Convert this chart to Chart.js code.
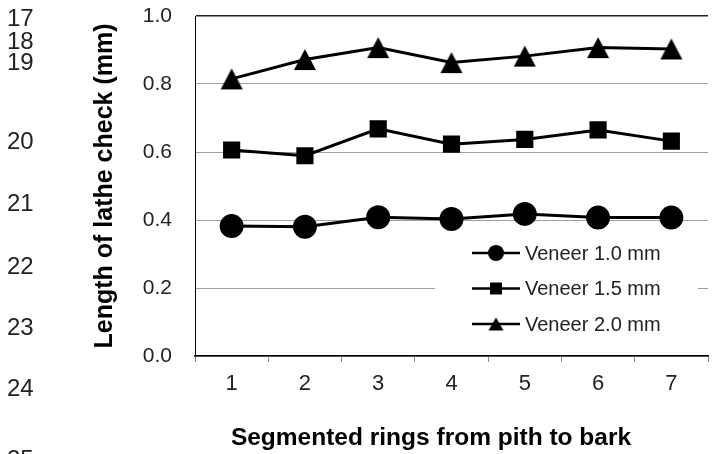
<!DOCTYPE html>
<html>
<head>
<meta charset="utf-8">
<script src="https://cdn.jsdelivr.net/npm/chart.js@4.4.0/dist/chart.umd.min.js"></script>
<style>
  html, body { margin: 0; padding: 0; background: #fff; }
  #wrap { width: 713px; height: 454px; }
</style>
</head>
<body>
<div id="wrap"><canvas id="lathe" width="713" height="454"></canvas></div>
<script>
  // data
  const rings = ['1', '2', '3', '4', '5', '6', '7'];
  const veneer10 = [0.382, 0.380, 0.408, 0.403, 0.418, 0.407, 0.407];
  const veneer15 = [0.606, 0.589, 0.668, 0.623, 0.637, 0.665, 0.632];
  const veneer20 = [0.815, 0.872, 0.907, 0.863, 0.882, 0.907, 0.903];
  const seriesNames = ['Veneer 1.0 mm', 'Veneer 1.5 mm', 'Veneer 2.0 mm'];
  const lineNumbers = ['17', '18', '19', '20', '21', '22', '23', '24', '25'];

  const FONT = '"Liberation Sans", Arial, sans-serif';

  // excel style triangle, centred on its bounding box
  const makeTriangle = (w, h) => {
    const c = document.createElement('canvas');
    c.width = w + 2; c.height = h + 2;
    const g = c.getContext('2d');
    g.fillStyle = '#000';
    g.beginPath();
    g.moveTo(c.width / 2, 1);
    g.lineTo(c.width - 1, c.height - 1);
    g.lineTo(1, c.height - 1);
    g.closePath();
    g.fill();
    return c;
  };
  const bigTri = makeTriangle(22, 21);
  const smallTri = makeTriangle(15, 13);

  const drawMarker = (ctx, style, x, y) => {
    ctx.fillStyle = '#000';
    if (style === 'circle') {
      ctx.beginPath();
      ctx.arc(x, y, 8, 0, Math.PI * 2);
      ctx.fill();
    } else if (style === 'rect') {
      ctx.fillRect(x - 6, y - 6, 12, 12);
    } else {
      ctx.drawImage(smallTri, x - smallTri.width / 2, y - smallTri.height / 2);
    }
  };

  const extras = {
    id: 'extras',
    afterDraw(chart) {
      const { ctx } = chart;
      ctx.save();

      // manuscript line numbers on the left
      const ys = [19, 42, 63, 142, 204, 267, 328, 389, 460];
      ctx.font = '24px ' + FONT;
      ctx.fillStyle = '#222';
      ctx.textAlign = 'left';
      ctx.textBaseline = 'middle';
      lineNumbers.forEach((t, i) => ctx.fillText(t, 7, ys[i]));

      // x axis title
      ctx.font = 'bold 24.5px ' + FONT;
      ctx.fillStyle = '#000';
      ctx.textAlign = 'center';
      ctx.fillText('Segmented rings from pith to bark', 431, 438);

      // legend inside plot
      ctx.fillStyle = '#fff';
      ctx.fillRect(435, 234, 263, 108);
      ctx.font = '20px ' + FONT;
      ctx.textAlign = 'left';
      const styles = ['circle', 'rect', 'tri'];
      chart.data.datasets.forEach((ds, i) => {
        const y = 253 + i * 35.5;
        ctx.strokeStyle = '#000';
        ctx.lineWidth = 2.5;
        ctx.beginPath();
        ctx.moveTo(472, y);
        ctx.lineTo(520, y);
        ctx.stroke();
        drawMarker(ctx, styles[i], 496, y);
        ctx.fillStyle = '#222';
        ctx.fillText(ds.label, 525, y + 1);
      });
      ctx.restore();
    }
  };

  const mkSet = (label, data, style, radius) => ({
    label,
    data,
    borderColor: '#000',
    borderWidth: 3,
    backgroundColor: '#000',
    pointBackgroundColor: '#000',
    pointBorderColor: '#000',
    pointStyle: style,
    pointRadius: radius,
    pointHoverRadius: radius,
    tension: 0,
  });

  new Chart(document.getElementById('lathe'), {
    type: 'line',
    data: {
      labels: rings,
      datasets: [
        mkSet(seriesNames[0], veneer10, 'circle', 10.5),
        mkSet(seriesNames[1], veneer15, 'rect', 10),
        mkSet(seriesNames[2], veneer20, bigTri, 11),
      ]
    },
    options: {
      responsive: false,
      animation: false,
      layout: { autoPadding: false, padding: { left: 90, top: 16, right: 5, bottom: 0 } },
      plugins: {
        legend: { display: false },
        tooltip: { enabled: false },
      },
      scales: {
        x: {
          offset: true,
          grid: {
            offset: true,
            drawOnChartArea: false,
            tickLength: 6,
            color: '#888',
          },
          border: { color: '#000', width: 1.5 },
          ticks: {
            padding: 9,
            color: '#222',
            font: { family: FONT, size: 22 },
          },
          afterFit: s => { s.height = 454 - 356; },
        },
        y: {
          min: 0,
          max: 1.0,
          ticks: {
            stepSize: 0.2,
            padding: 0,
            color: '#222',
            font: { family: FONT, size: 21 },
            callback: v => v.toFixed(1),
          },
          grid: {
            // invisible tick marks just push the labels off the axis
            drawTicks: true,
            tickLength: 23,
            tickColor: 'rgba(0,0,0,0)',
            color: c => c.tick.value >= 1 ? '#222' : '#a0a0a0',
            lineWidth: c => c.tick.value >= 1 ? 1.5 : 1,
          },
          border: { color: '#000', width: 1 },
          title: {
            display: true,
            text: 'Length of lathe check (mm)',
            color: '#000',
            font: { family: FONT, size: 25, weight: 'bold' },
            padding: 0,
          },
          afterFit: s => { s.width = 195 - 90; },
        }
      }
    },
    plugins: [extras]
  });
</script>
</body>
</html>
